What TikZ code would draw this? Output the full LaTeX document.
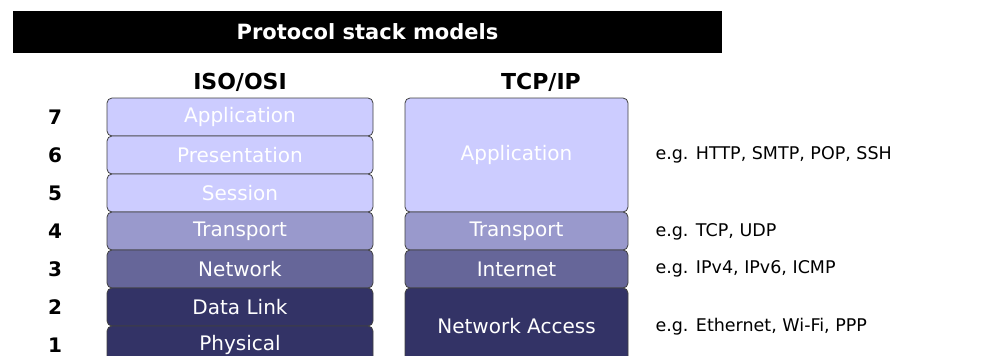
\documentclass[tikz,border=0pt]{standalone}
\usepackage{fontspec}
\setmainfont{DejaVu Sans}
\definecolor{layerA}{HTML}{CCCCFF}
\definecolor{layerB}{HTML}{9999CC}
\definecolor{layerC}{HTML}{666699}
\definecolor{layerD}{HTML}{333366}
\tikzset{
  layer/.style={draw=black!75, line width=0.8pt, rounded corners=5pt, text=white,
    font=\fontsize{20}{22}\selectfont, inner sep=0pt},
  osi/.style={layer, minimum width=266pt, minimum height=38pt},
  tcp/.style={layer, minimum width=223pt},
  num/.style={font=\bfseries\fontsize{20}{22}\selectfont},
  head/.style={font=\bfseries\fontsize{22}{24}\selectfont},
  note/.style={anchor=west, font=\fontsize{17.5}{20}\selectfont},
}
\begin{document}
\begin{tikzpicture}[x=1pt, y=-1pt]
    \useasboundingbox (0,0) rectangle (1002,356);
    \node[fill=black, text=white, font=\bfseries\fontsize{21}{23}\selectfont,
      minimum width=709pt, minimum height=42pt, inner sep=0pt] (title) at (367.5,32) {Protocol stack models};
    \node[head] (osihead) at (240,82) {ISO/OSI};
    \node[head] (tcphead) at (541,82) {TCP/IP};
    % ISO/OSI layers
    \node[osi, fill=layerA] (osi7) at (240,117) {Application};
    \node[osi, fill=layerA] (osi6) at (240,155) {Presentation};
    \node[osi, fill=layerA] (osi5) at (240,193) {Session};
    \node[osi, fill=layerB] (osi4) at (240,231) {Transport};
    \node[osi, fill=layerC] (osi3) at (240,269) {Network};
    \node[osi, fill=layerD] (osi2) at (240,307) {Data Link};
    \node[osi, fill=layerD] (osi1) at (240,345) {Physical};
    \foreach \n/\y in {7/117,6/155,5/193,4/231,3/269,2/307,1/345}
      \node[num] (num\n) at (55,\y) {\n};
    % TCP/IP layers
    \node[tcp, fill=layerA, minimum height=114pt] (tcpapp) at (516.5,155) {Application};
    \node[tcp, fill=layerB, minimum height=38pt] (tcptrans) at (516.5,231) {Transport};
    \node[tcp, fill=layerC, minimum height=38pt] (tcpnet) at (516.5,269) {Internet};
    \node[tcp, fill=layerD, minimum height=76pt] (tcplink) at (516.5,326) {Network Access};
    % examples
    \node[note] (exapp) at (652,155) {e.g. HTTP, SMTP, POP, SSH};
    \node[note] (extrans) at (652,232) {e.g. TCP, UDP};
    \node[note] (exnet) at (652,269) {e.g. IPv4, IPv6, ICMP};
    \node[note] (exlink) at (652,327) {e.g. Ethernet, Wi-Fi, PPP};
\end{tikzpicture}
\end{document}
